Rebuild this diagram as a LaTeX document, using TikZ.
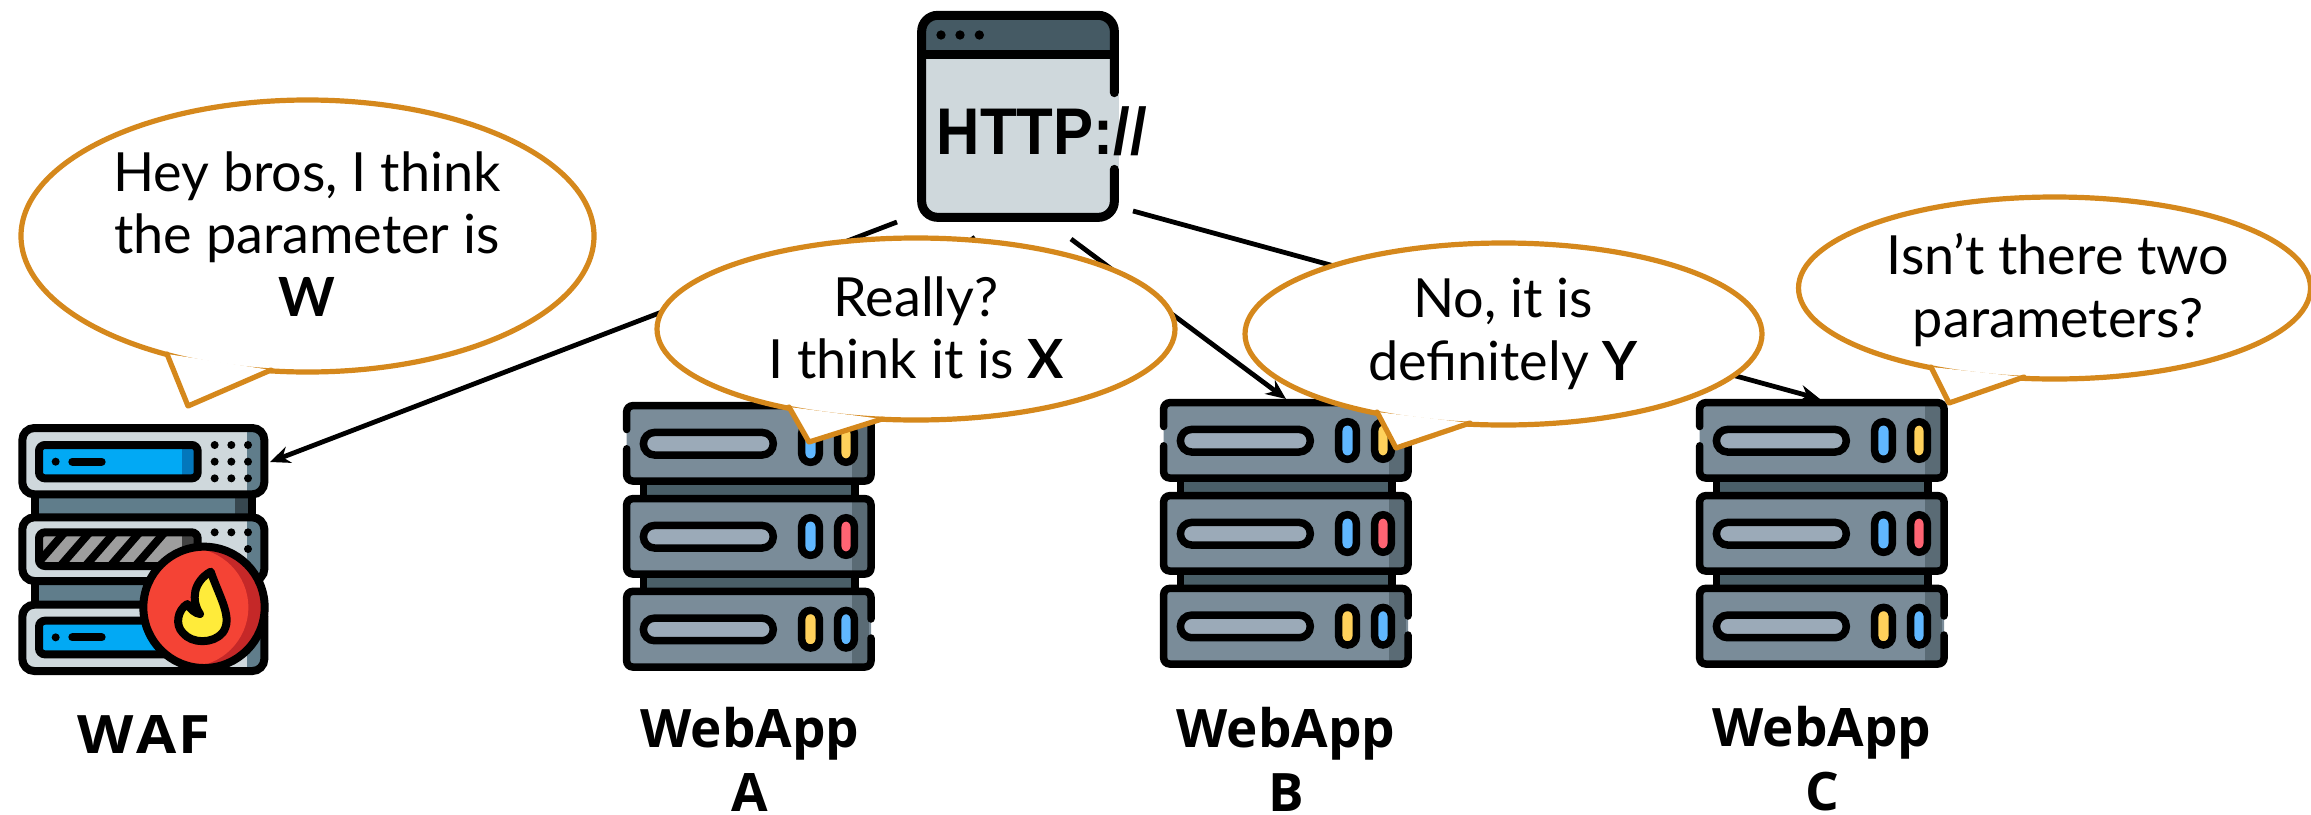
\documentclass[tikz,border=0pt]{standalone}
\usepackage{fontspec}
\setmainfont{Lato}
\newfontfamily\httpfont{Liberation Sans}
\newfontfamily\labelfont{Open Sans}
\usetikzlibrary{shapes.geometric,arrows.meta}
\definecolor{bubbleline}{HTML}{D5881C}
\definecolor{srvbody}{HTML}{7A8C99}
\definecolor{srvshade}{HTML}{5A6B75}
\definecolor{srvband}{HTML}{4A5F68}
\definecolor{srvpill}{HTML}{9BAAB8}
\definecolor{ledblue}{HTML}{60B7FF}
\definecolor{ledyellow}{HTML}{FFD15B}
\definecolor{ledred}{HTML}{FF6473}
\definecolor{wafbody}{HTML}{CFD8DC}
\definecolor{wafshade}{HTML}{607D8B}
\definecolor{wafdark}{HTML}{37474F}
\definecolor{wafblue}{HTML}{02A9F4}
\definecolor{wafblued}{HTML}{0377BC}
\definecolor{wafgray}{HTML}{9E9E9E}
\definecolor{wafgrayd}{HTML}{424242}
\definecolor{wafred}{HTML}{F44335}
\definecolor{wafredd}{HTML}{C52828}
\definecolor{wafyellow}{HTML}{FFEB3A}
\definecolor{httphead}{HTML}{455A64}
\newcommand{\srvunit}[3]{%
  \fill[srvbody,rounded corners=3pt] (3.7,#1+3.7) rectangle (248,#1+79);
  \fill[srvshade] (229,#1+3.7) rectangle (246,#1+79);
  \draw[srvln,fill=srvpill,rounded corners=5.6pt] (20.4,#1+30.4) rectangle (150.3,#1+53);
  \draw[srvln,fill=#2,rounded corners=4.3pt] (178.7,#1+22.7) rectangle (196.3,#1+60.3);
  \draw[srvln,fill=#3,rounded corners=4.3pt] (214.7,#1+22.7) rectangle (231.3,#1+60.3);
}
\newcommand{\srvband}[1]{%
  \fill[srvband] (20.5,#1) rectangle (232,#1+16);
  \draw[line width=3.75pt] (20.5,#1) -- (20.5,#1+16) (232,#1) -- (232,#1+16);
}
\newcommand{\wafunit}[2]{%
  \begin{scope}
    \clip[rounded corners=6pt] (67,#1) rectangle (793,#2);
    \fill[wafbody] (60,#1-10) rectangle (800,#2+10);
    \fill[wafshade] (742,#1-10) rectangle (800,#2+10);
  \end{scope}
  \draw[wafln,rounded corners=6pt] (67,#1) rectangle (793,#2);
}
\newcommand{\wafband}[1]{%
  \fill[wafshade] (104,#1) rectangle (756,#1+69);
  \fill[wafdark] (705,#1) rectangle (745,#1+69);
  \draw[wafln] (104,#1) -- (104,#1+69) (756,#1) -- (756,#1+69);
}
\tikzset{
  srvln/.style={line width=3.75pt,draw=black},
  wafln/.style={line width=4pt,draw=black},
  httpln/.style={line width=4.5pt,draw=black,line cap=round},
  server/.pic={
    \srvband{79}
    \srvband{172}
    \srvunit{0}{ledblue}{ledyellow}
    \srvunit{93}{ledblue}{ledred}
    \srvunit{185.7}{ledyellow}{ledblue}
    \draw[srvln,rounded corners=3pt,line cap=round] (3.7,27.5) -- (3.7,3.7) -- (248,3.7) -- (248,79) -- (3.7,79) -- (3.7,46.8);
    \draw[srvln,rounded corners=3pt] (3.7,96.7) rectangle (248,172);
    \draw[srvln,rounded corners=3pt,line cap=round] (248,217) -- (248,189.4) -- (3.7,189.4) -- (3.7,265) -- (248,265) -- (248,236);
  },
  bubble/.style={ellipse,draw=bubbleline,fill=white,line width=2.6pt,inner sep=0pt,outer sep=0pt},
  tailln/.style={draw=bubbleline,line width=2.6pt,line join=round,line cap=round},
  bubbletext/.style={align=center,inner sep=0pt,font=\fontsize{27}{31.3}\selectfont},
  labeltext/.style={align=center,inner sep=0pt,font=\labelfont\fontsize{26.5}{32}\selectfont\bfseries},
  conn/.style={line width=2.4pt,draw=black},
  connarrow/.style={conn,-{Stealth[length=10pt,width=8.5pt]}},
}
\begin{document}
\begin{tikzpicture}[x=0.5pt,y=-0.5pt]
\path[use as bounding box] (0,0) rectangle (2311,814);
% anchor nodes
\node[inner sep=0pt,outer sep=0pt,minimum width=101pt,minimum height=105.5pt] (http) at (1018,116.5) {};
\node[inner sep=0pt,outer sep=0pt,minimum width=125pt,minimum height=125.5pt] (waf) at (143,549.5) {};
\node[inner sep=0pt,outer sep=0pt,minimum width=126pt,minimum height=134.5pt] (srvA) at (749,536.5) {};
\node[inner sep=0pt,outer sep=0pt,minimum width=126pt,minimum height=134.5pt] (srvB) at (1286,533.5) {};
\node[inner sep=0pt,outer sep=0pt,minimum width=126pt,minimum height=134.5pt] (srvC) at (1822,533.5) {};
% connectors
\draw[connarrow] ([xshift=-10pt]http.south west) -- ([xshift=1pt,yshift=-19pt]waf.north east);
\draw[connarrow] ([xshift=-21.5pt,yshift=-7.6pt]http.south) -- ([yshift=1pt]srvA.north);
\draw[connarrow] ([xshift=26.5pt,yshift=-8.5pt]http.south) -- (srvB.north);
\draw[connarrow] ([xshift=7pt,yshift=5.5pt]http.south east) -- ([xshift=-1pt]srvC.north);
% HTTP icon
\begin{scope}[shift={(880,0)},x=0.16667pt,y=-0.16667pt]
  \fill[wafbody,rounded corners=8pt] (125,46) rectangle (703,652);
  \fill[wafbody] (700,280) rectangle (716,507);
  \begin{scope}
    \clip (100,20) rectangle (730,162);
    \fill[httphead,rounded corners=8pt] (125,46) rectangle (703,652);
  \end{scope}
  \draw[httpln,rounded corners=8pt] (703,278) -- (703,46) -- (125,46) -- (125,652) -- (703,652) -- (703,508);
  \draw[line width=4.5pt] (125,162) -- (703,162);
  \fill (183,105) circle[radius=14];
  \fill (240,105) circle[radius=14];
  \fill (298,105) circle[radius=14];
  \node[inner sep=0pt,xscale=0.91,font=\httpfont\bfseries\fontsize{33}{33}\selectfont] (httptext) at (486,395) {HTTP://};
\end{scope}
% WAF icon
\begin{scope}[shift={(0,410)},x=0.16667pt,y=-0.16667pt]
  \wafband{253}
  \wafband{513}
  \wafunit{54}{253}
  \wafunit{322}{513}
  \wafunit{584}{783}
  % display 1
  \fill[wafblue] (117,105) rectangle (593,205);
  \fill[wafblued] (545,105) rectangle (593,205);
  \draw[wafln,rounded corners=3pt] (117,105) rectangle (593,205);
  \fill (167,155) circle[radius=12];
  \draw[wafln,line cap=round] (217,155) -- (305,155);
  % dots
  \foreach \xx in {644,694,744} \foreach \yy in {105,155,205} \fill (\xx,\yy) circle[radius=12];
  \foreach \xx in {644,694,744} \fill (\xx,367) circle[radius=12];
  \fill (744,417) circle[radius=12];
  % display 2
  \begin{scope}
    \clip (117,367) rectangle (593,468);
    \fill[wafgray] (117,367) rectangle (593,468);
    \fill[wafgrayd] (545,367) rectangle (593,468);
    \foreach \k in {0,...,4} \draw[line width=4pt] (200+75*\k,360) -- (100+75*\k,475);
  \end{scope}
  \draw[wafln,rounded corners=3pt] (117,367) rectangle (593,468);
  % display 3
  \fill[wafblue] (117,632) rectangle (593,733);
  \draw[wafln,rounded corners=3pt] (117,632) rectangle (593,733);
  \fill (167,682) circle[radius=12];
  \draw[wafln,line cap=round] (217,682) -- (305,682);
  % badge
  \fill[wafredd] (612,592) circle[radius=182];
  \begin{scope}
    \clip (612,592) circle[radius=182];
    \fill[wafred] (567,592) circle[radius=178];
  \end{scope}
  \draw[wafln] (612,592) circle[radius=182];
  \draw[wafln,fill=wafyellow,line join=round] (632,485) .. controls (580,515) and (572,570) .. (600,612)
     .. controls (585,610) and (572,598) .. (562,582)
     .. controls (532,600) and (525,645) .. (548,668)
     .. controls (575,702) and (640,702) .. (668,668)
     .. controls (700,625) and (660,565) .. (632,485) -- cycle;
\end{scope}
% servers
\pic at (623,402) {server};
\pic at (1160,399) {server};
\pic at (1696,399) {server};
% bubbles
\node[bubble,minimum width=286.5pt,minimum height=136pt] (b1) at (307.5,236) {};
\fill[white] (167,354) -- (188,406) -- (271,370) -- cycle;
\draw[tailln] (167,354) -- (188,406) -- (271,370);
\node[bubbletext] (t1) at (307,234) {Hey bros, I think\\the parameter is\\\textbf{W}};
\node[bubble,minimum width=259pt,minimum height=91pt] (b2) at (916,329) {};
\fill[white] (789,407) -- (809,442) -- (882,419) -- cycle;
\draw[tailln] (789,407) -- (809,442) -- (882,419);
\node[bubbletext] (t2) at (916,328) {Really?\\I think it is \textbf{X}};
\node[bubble,minimum width=258.5pt,minimum height=91pt] (b3) at (1503.5,334) {};
\fill[white] (1377,412) -- (1396,448) -- (1470,423) -- cycle;
\draw[tailln] (1377,412) -- (1396,448) -- (1470,423);
\node[bubbletext] (t3) at (1503,334) {No, it is\\definitely \textbf{Y}};
\node[bubble,minimum width=256pt,minimum height=91pt] (b4) at (2054.5,288) {};
\fill[white] (1931,367) -- (1949,403) -- (2024,377) -- cycle;
\draw[tailln] (1931,367) -- (1949,403) -- (2024,377);
\node[bubbletext] (t4) at (2058,290) {Isn’t there two\\parameters?};
% labels
\node[labeltext,xscale=1.1] (lwaf) at (144,734) {W\kern1.2pt A\kern1.2pt F};
\node[labeltext] (la) at (750,759) {WebApp\\A};
\node[labeltext] (lb) at (1286,759) {WebApp\\B};
\node[labeltext] (lc) at (1822,759) {WebApp\\C};
\end{tikzpicture}
\end{document}
